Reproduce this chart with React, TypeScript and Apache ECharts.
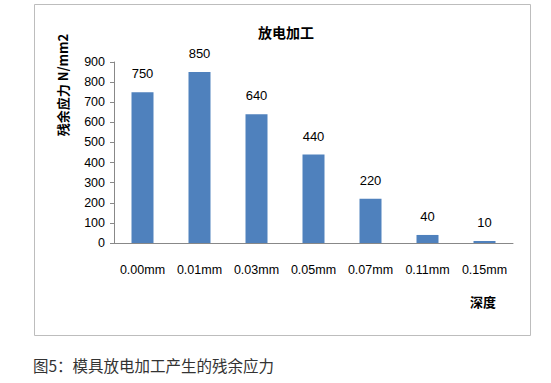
import React, { useEffect, useRef } from "react";
import * as echarts from "echarts";

const categories = ["0.00mm", "0.01mm", "0.03mm", "0.05mm", "0.07mm", "0.11mm", "0.15mm"];
const stressValues = [750, 850, 640, 440, 220, 40, 10];
const titleText = "放电加工";
const yAxisName = "残余应力 N/mm2";
const xAxisName = "深度";
const captionText = "图5：模具放电加工产生的残余应力";

export default function App() {
  const ref = useRef<HTMLDivElement>(null);
  useEffect(() => {
    if (!ref.current) return;
    const chart = echarts.init(ref.current, undefined, { renderer: "svg" });
    const textFont = "'Liberation Sans', 'Noto Sans CJK SC', sans-serif";
    const cjkFont = "'Noto Sans CJK SC', sans-serif";
    chart.setOption({
      animation: false,
      backgroundColor: "#ffffff",
      title: {
        text: titleText,
        left: 281,
        top: 20,
        textAlign: "center",
        textStyle: { fontSize: 14, fontWeight: "bold", color: "#000", fontFamily: cjkFont },
      },
      grid: { left: 114, right: 38, top: 62, bottom: 140, containLabel: false, outerBoundsMode: "none" },
      xAxis: {
        type: "category",
        data: categories,
        axisLine: { show: true, lineStyle: { color: "#888", width: 1 } },
        axisTick: { show: false },
        axisLabel: { color: "#000", fontSize: 12.5, margin: 21, fontFamily: textFont, interval: 0 },
      },
      yAxis: {
        type: "value",
        min: 0,
        max: 900,
        interval: 100,
        axisLine: { show: true, lineStyle: { color: "#888", width: 1 } },
        axisTick: { show: true, length: 4, lineStyle: { color: "#888" } },
        splitLine: { show: false },
        axisLabel: { color: "#000", fontSize: 12.5, margin: 9, fontFamily: textFont },
      },
      graphic: [
        {
          type: "rect",
          shape: { x: 34.5, y: 4.5, width: 496, height: 331 },
          style: { fill: "none", stroke: "#bdbdbd", lineWidth: 1 },
          silent: true,
        },
        {
          type: "text",
          x: 62,
          y: 85,
          rotation: Math.PI / 2,
          style: {
            text: yAxisName,
            fontSize: 13,
            fontWeight: "bold",
            fill: "#000",
            fontFamily: cjkFont,
            align: "center",
            verticalAlign: "middle",
          },
        },
        {
          type: "text",
          x: 483,
          y: 301,
          style: {
            text: xAxisName,
            fontSize: 13,
            fontWeight: "bold",
            fill: "#000",
            fontFamily: cjkFont,
            align: "center",
            verticalAlign: "middle",
          },
        },
        {
          type: "text",
          x: 33,
          y: 365,
          style: {
            text: captionText,
            fontSize: 15.5,
            fill: "#333",
            fontFamily: cjkFont,
            verticalAlign: "middle",
          },
        },
      ],
      series: [
        {
          type: "bar",
          data: stressValues,
          barWidth: 22,
          itemStyle: { color: "#4f81bd" },
          label: {
            show: true,
            position: "top",
            distance: 12,
            color: "#000",
            fontSize: 13,
            fontFamily: textFont,
          },
        },
      ],
    });
    return () => chart.dispose();
  }, []);
  return (
    <div
      ref={ref}
      style={{ position: "fixed", left: 0, top: 0, width: 551, height: 383 }}
    />
  );
}
